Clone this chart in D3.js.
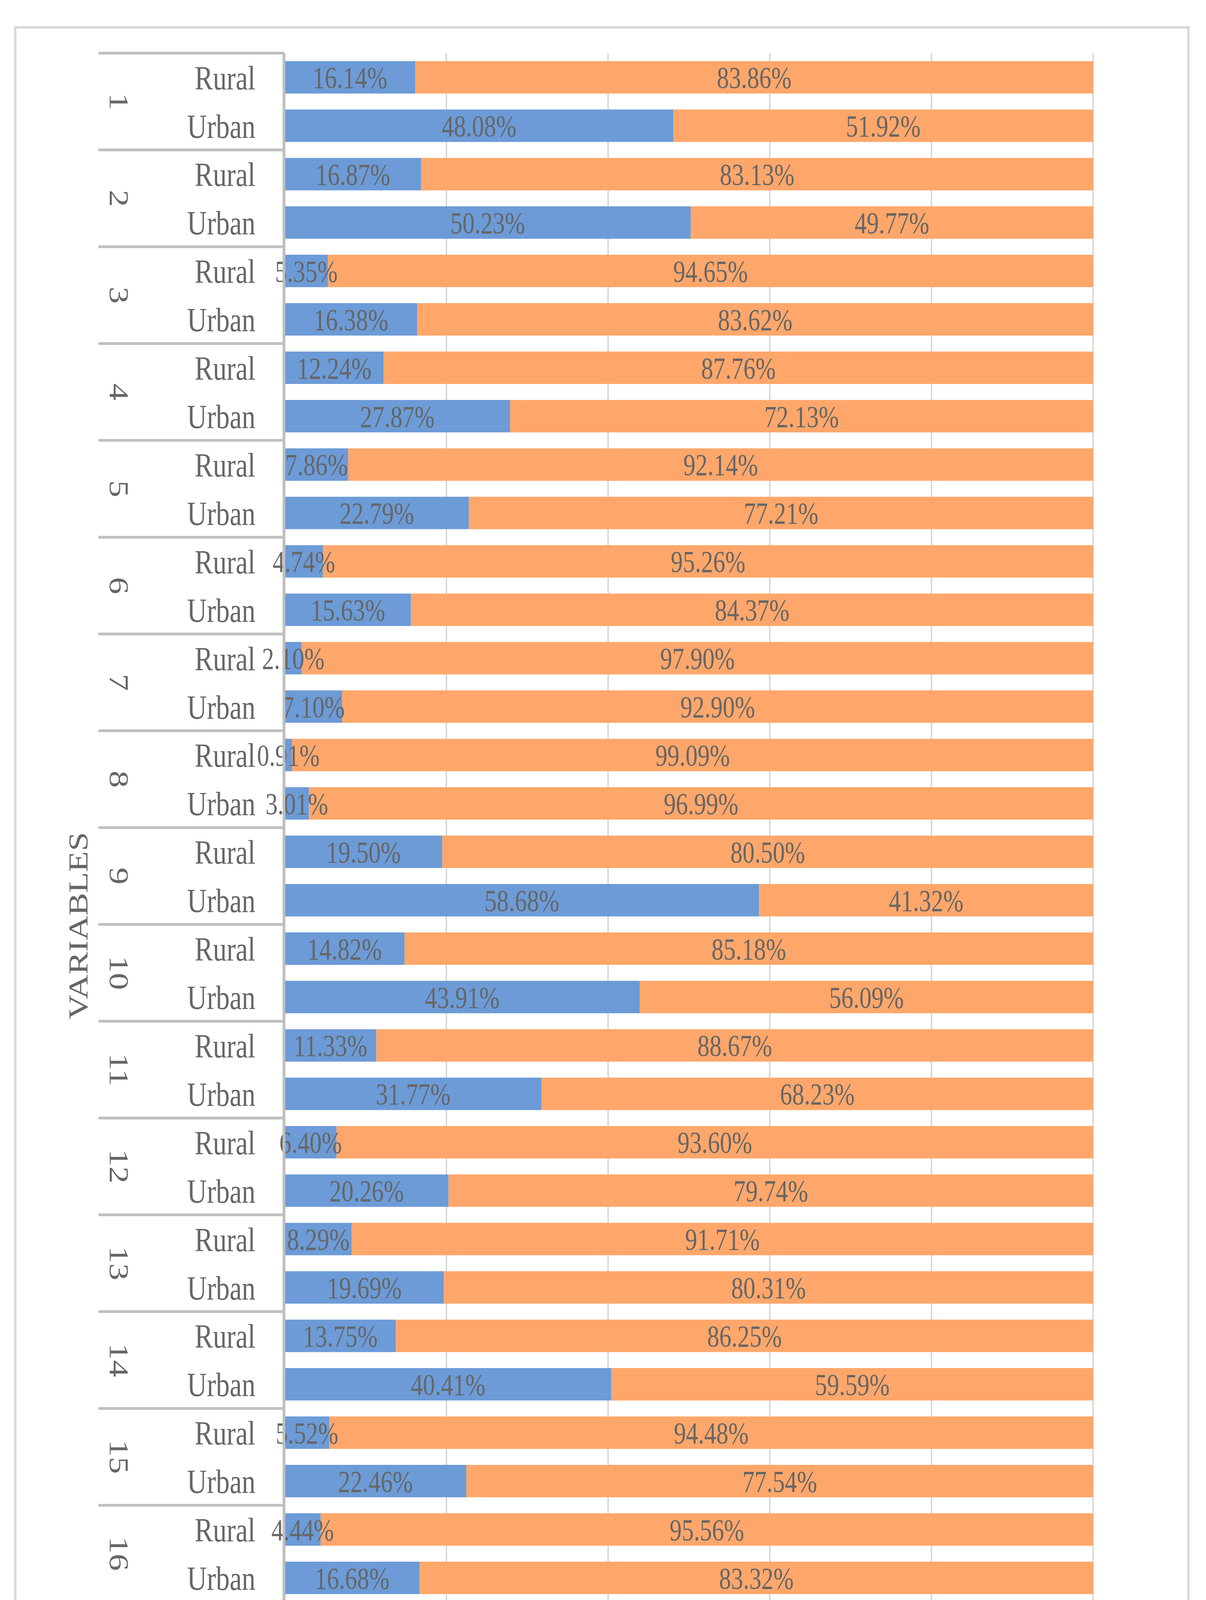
<!DOCTYPE html>
<html><head><meta charset="utf-8">
<script src="https://cdn.jsdelivr.net/npm/d3@7"></script>
<style>html,body{margin:0;background:#fff;overflow:hidden}svg{display:block}</style></head>
<body><svg id="c" width="3088" height="5197"></svg>
<script>
const groups = ["1","2","3","4","5","6","7","8","9","10","11","12","13","14","15","16","17","18"];
const areas = ["Rural","Urban"];
const yesRural = [16.14,16.87,5.35,12.24,7.86,4.74,2.10,0.91,19.50,14.82,11.33,6.40,8.29,13.75,5.52,4.44,2.23,3.23];
const yesUrban = [48.08,50.23,16.38,27.87,22.79,15.63,7.10,3.01,58.68,43.91,31.77,20.26,19.69,40.41,22.46,16.68,6.54,7.24];
const noRural = [83.86,83.13,94.65,87.76,92.14,95.26,97.90,99.09,80.50,85.18,88.67,93.60,91.71,86.25,94.48,95.56,97.77,96.77];
const noUrban = [51.92,49.77,83.62,72.13,77.21,84.37,92.90,96.99,41.32,56.09,68.23,79.74,80.31,59.59,77.54,83.32,93.46,92.76];
const xTicks = [0,20,40,60,80,100];
const seriesNames = ["Yes","No"];

const rows = [];
groups.forEach((g,i)=>{
  rows.push({g, a:areas[0], yes:yesRural[i], no:noRural[i]});
  rows.push({g, a:areas[1], yes:yesUrban[i], no:noUrban[i]});
});
const svg = d3.select("#c");
const font = "Liberation Serif, Times New Roman, serif";
const txt = "#666";
const blue = "#6C9BD7", orange = "#FFA76B";
const SY = 1.25;
function label(sel, x, y, s, size, anchor, rot){
  return sel.append("text")
    .attr("transform",`translate(${x},${y})${rot?` rotate(${rot})`:""} scale(1,${SY})`)
    .attr("dy","0.35em").attr("text-anchor",anchor)
    .attr("font-family",font).attr("font-size",size).attr("fill",txt).text(s);
}
svg.append("rect").attr("x",39).attr("y",70).attr("width",3004).attr("height",5086)
  .attr("fill","#fff").attr("stroke","#d9d9d9").attr("stroke-width",6);

const L=729,R=2799,T=136,B=4597;
const x = d3.scaleLinear().domain([0,100]).range([L,R]);
const y = d3.scaleBand().domain(rows.map((r,i)=>i)).range([T,B]).paddingInner(0.33).paddingOuter(0.165);
const yg = d3.scaleBand().domain(groups).range([T,B]);

svg.append("g").selectAll("line").data(xTicks).join("line")
  .attr("x1",d=>x(d)).attr("x2",d=>x(d)).attr("y1",T).attr("y2",B)
  .attr("stroke","#d9d9d9").attr("stroke-width",4);

const bars = svg.append("g");
rows.forEach((r,i)=>{
  bars.append("rect").attr("x",x(0)).attr("y",y(i)).attr("width",x(r.yes)-x(0)).attr("height",y.bandwidth()).attr("fill",blue);
  bars.append("rect").attr("x",x(r.yes)).attr("y",y(i)).attr("width",x(100)-x(r.yes)).attr("height",y.bandwidth()).attr("fill",orange);
  const cy = y(i)+y.bandwidth()/2;
  label(bars,(x(0)+x(r.yes))/2,cy,r.yes.toFixed(2)+"%",62,"middle");
  label(bars,(x(r.yes)+x(100))/2,cy,r.no.toFixed(2)+"%",62,"middle");
  label(svg,654,cy,r.a,70,"end");
});

const ax = svg.append("g");
ax.append("line").attr("x1",727).attr("x2",727).attr("y1",T).attr("y2",B).attr("stroke","#bfbfbf").attr("stroke-width",7);
groups.concat(["end"]).forEach((g,i)=>{
  const yy = i<groups.length ? yg(g) : B;
  ax.append("line").attr("x1",252).attr("x2",727).attr("y1",yy).attr("y2",yy).attr("stroke","#bfbfbf").attr("stroke-width",7);
});
groups.forEach(g=>{
  const cy = yg(g)+yg.bandwidth()/2;
  ax.append("text").attr("transform",`translate(306,${cy}) rotate(90) scale(${SY},1)`).attr("text-anchor","middle").attr("dy","0.35em")
    .attr("font-family",font).attr("font-size",70).attr("fill",txt).text(g);
});

const tk = svg.append("g");
xTicks.forEach(d=>label(tk,x(d),4695,d.toFixed(2)+"%",70,"middle"));
label(svg,(L+R)/2,4815,"PERCENTAGE (%)",70,"middle");
svg.append("text").attr("transform",`translate(199,2370) rotate(-90) scale(${SY},1)`).attr("dy","0.35em").attr("text-anchor","middle")
  .attr("font-family",font).attr("font-size",70).attr("fill",txt).text("VARIABLES");

const leg = [{n:seriesNames[0],c:blue,x:1359},{n:seriesNames[1],c:orange,x:1598}];
leg.forEach(l=>{
  svg.append("rect").attr("x",l.x).attr("y",5012).attr("width",36).attr("height",46).attr("fill",l.c);
  label(svg,l.x+50,5035,l.n,70,"start");
});
</script></body></html>
